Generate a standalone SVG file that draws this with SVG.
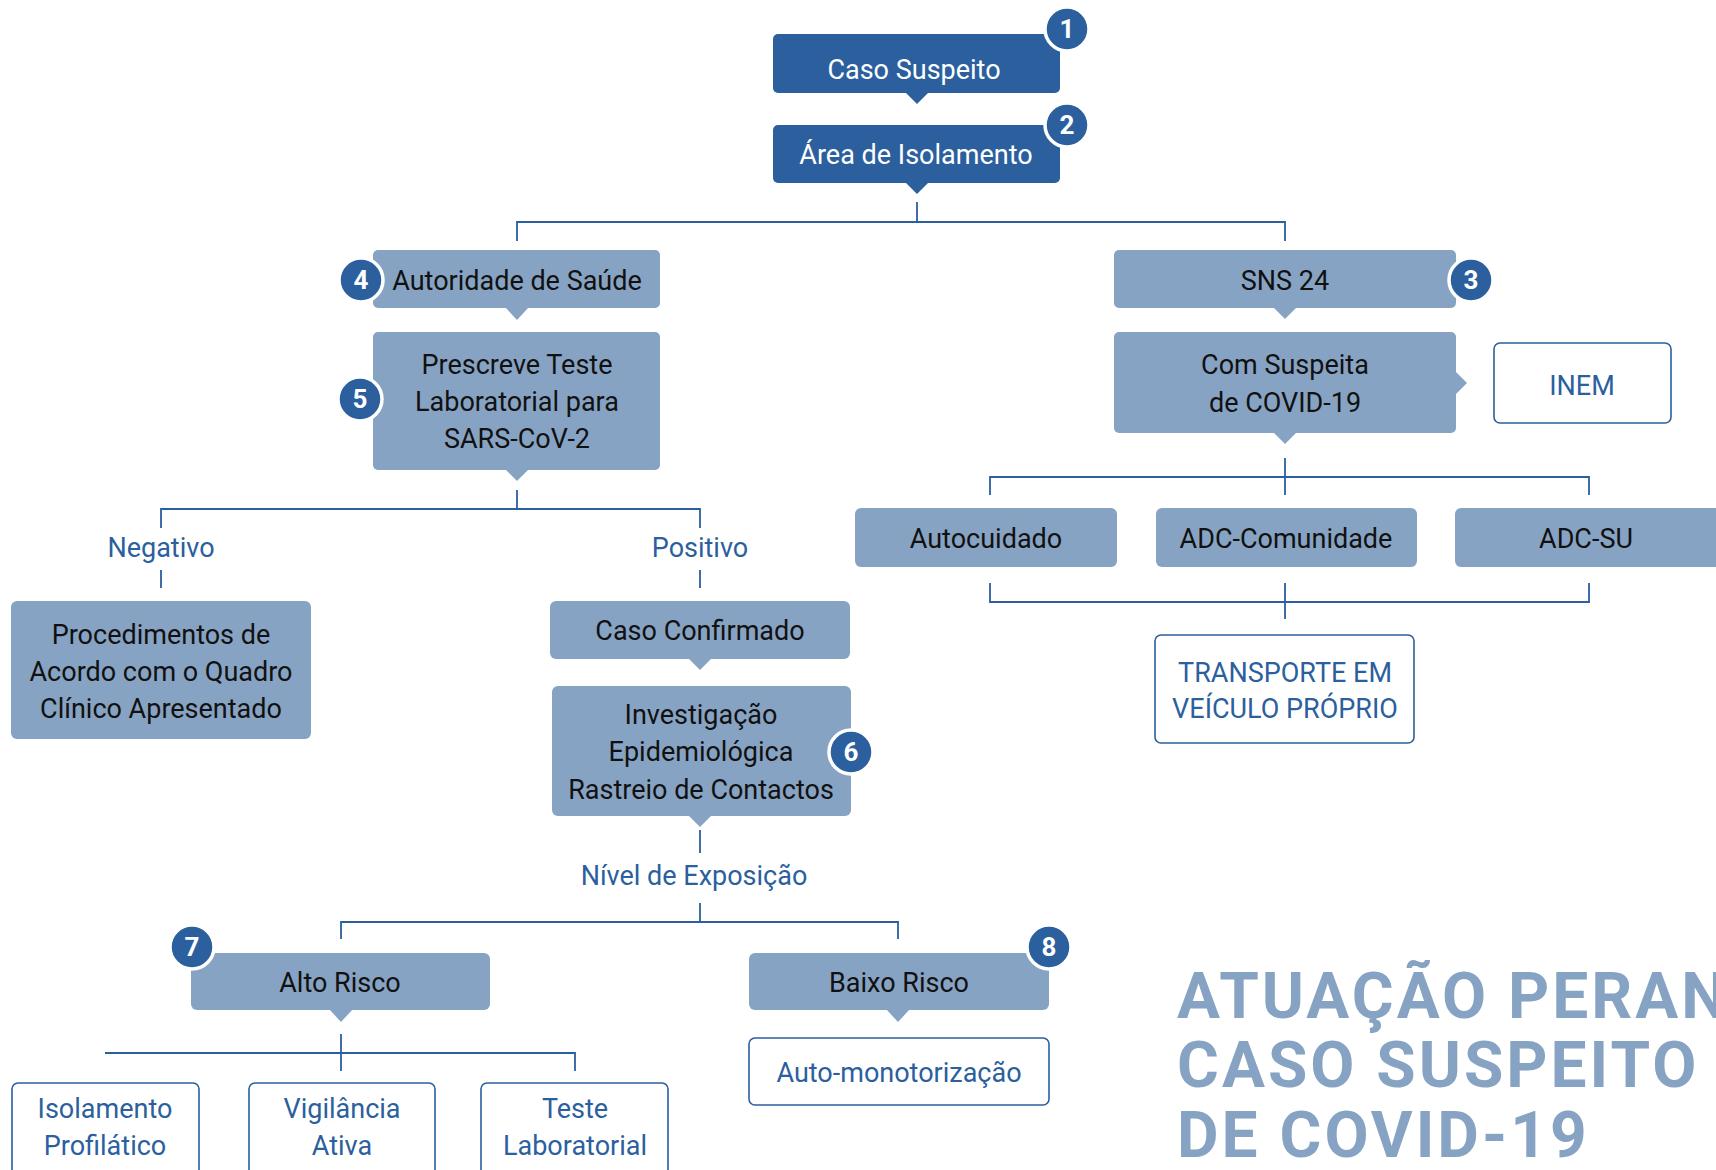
<svg xmlns="http://www.w3.org/2000/svg" width="1716" height="1170" viewBox="0 0 1716 1170">
<style>
.dark{fill:#2b5f9e}
.light{fill:#87a3c3}
.out{fill:#ffffff;stroke:#2b5f9e;stroke-width:1.6}
.t{font-family:Roboto,"Liberation Sans",sans-serif;font-size:27px;text-anchor:middle}
.tw{fill:#ffffff}
.tk{fill:#111111}
.tb{fill:#2b5f9e}
.badge circle{fill:#2b5f9e;stroke:#ffffff;stroke-width:3.5}
.badge text{font-family:Roboto,"Liberation Sans",sans-serif;font-size:26px;font-weight:700;fill:#ffffff;text-anchor:middle}
.conn{stroke:#2b5f9e;stroke-width:1.8;fill:none}
.title{font-family:Roboto,"Liberation Sans",sans-serif;font-size:64px;font-weight:700;fill:#87a3c3;letter-spacing:3px}
</style>
<g id="connectors" class="conn">
<path d="M917 202V222M517 241V222H1285V241"/>
<path d="M517 490V509M161 528V509H700V528M161 570V588M700 570V588"/>
<path d="M1285 458V495M990 495V477H1589V495"/>
<path d="M990 583V602H1589V583M1285 583V619"/>
<path d="M700 830V853M700 903V922M341 939V922H898V939"/>
<path d="M341 1034V1071M105 1053H575V1071"/>
</g>
<g id="n1">
<rect class="dark" x="773" y="34" width="287" height="59" rx="5"/>
<path class="dark" d="M905 92L917 104L929 92Z"/>
<text class="t tw" x="914" y="79">Caso Suspeito</text>
</g>
<g id="n2">
<rect class="dark" x="773" y="125" width="287" height="58" rx="5"/>
<path class="dark" d="M905 182L917 194L929 182Z"/>
<text class="t tw" x="916" y="164">Área de Isolamento</text>
</g>
<g id="n4">
<rect class="light" x="373" y="250" width="287" height="58" rx="5"/>
<path class="light" d="M505 307L517 320L529 307Z"/>
<text class="t tk" x="517" y="290">Autoridade de Saúde</text>
</g>
<g id="n5">
<rect class="light" x="373" y="332" width="287" height="138" rx="5"/>
<path class="light" d="M505 469L517 481L529 469Z"/>
<text class="t tk" x="517" y="374">Prescreve Teste</text>
<text class="t tk" x="517" y="411">Laboratorial para</text>
<text class="t tk" x="517" y="448">SARS-CoV-2</text>
</g>
<g id="n3">
<rect class="light" x="1114" y="250" width="342" height="58" rx="5"/>
<path class="light" d="M1273 307L1285 319L1297 307Z"/>
<text class="t tk" x="1285" y="290">SNS 24</text>
</g>
<g id="nSusp">
<rect class="light" x="1114" y="332" width="342" height="101" rx="5"/>
<path class="light" d="M1273 432L1285 444L1297 432Z"/>
<path class="light" d="M1455 371L1467 383L1455 395Z"/>
<text class="t tk" x="1285" y="374">Com Suspeita</text>
<text class="t tk" x="1285" y="412">de COVID-19</text>
</g>
<g id="nINEM">
<rect class="out" x="1494" y="343" width="177" height="80" rx="6"/>
<text class="t tb" x="1582" y="395">INEM</text>
</g>
<g id="nAuto">
<rect class="light" x="855" y="508" width="262" height="59" rx="6"/>
<text class="t tk" x="986" y="548">Autocuidado</text>
</g>
<g id="nADCC">
<rect class="light" x="1156" y="508" width="261" height="59" rx="6"/>
<text class="t tk" x="1286" y="548">ADC-Comunidade</text>
</g>
<g id="nADCSU">
<rect class="light" x="1455" y="508" width="275" height="59" rx="6"/>
<text class="t tk" x="1586" y="548">ADC-SU</text>
</g>
<g id="nTransp">
<rect class="out" x="1155" y="635" width="259" height="108" rx="6"/>
<text class="t tb" x="1285" y="682">TRANSPORTE EM</text>
<text class="t tb" x="1285" y="718">VEÍCULO PRÓPRIO</text>
</g>
<g id="lblNeg"><text class="t tb" x="161" y="557">Negativo</text></g>
<g id="lblPos"><text class="t tb" x="700" y="557">Positivo</text></g>
<g id="nProc">
<rect class="light" x="11" y="601" width="300" height="138" rx="6"/>
<text class="t tk" x="161" y="644">Procedimentos de</text>
<text class="t tk" x="161" y="681">Acordo com o Quadro</text>
<text class="t tk" x="161" y="718">Clínico Apresentado</text>
</g>
<g id="nConf">
<rect class="light" x="550" y="601" width="300" height="58" rx="6"/>
<path class="light" d="M688 658L700 670L712 658Z"/>
<text class="t tk" x="700" y="640">Caso Confirmado</text>
</g>
<g id="nInv">
<rect class="light" x="552" y="686" width="299" height="130" rx="6"/>
<path class="light" d="M688 815L700 827L712 815Z"/>
<text class="t tk" x="701" y="724">Investigação</text>
<text class="t tk" x="701" y="761">Epidemiológica</text>
<text class="t tk" x="701" y="799">Rastreio de Contactos</text>
</g>
<g id="lblNivel"><text class="t tb" x="694" y="885">Nível de Exposição</text></g>
<g id="nAlto">
<rect class="light" x="191" y="953" width="299" height="57" rx="6"/>
<path class="light" d="M329 1009L341 1022L353 1009Z"/>
<text class="t tk" x="340" y="992">Alto Risco</text>
</g>
<g id="nBaixo">
<rect class="light" x="749" y="953" width="300" height="57" rx="6"/>
<path class="light" d="M886 1009L898 1022L910 1009Z"/>
<text class="t tk" x="899" y="992">Baixo Risco</text>
</g>
<g id="nAutoMon">
<rect class="out" x="749" y="1038" width="300" height="67" rx="6"/>
<text class="t tb" x="899" y="1082">Auto-monotorização</text>
</g>
<g id="nIsol">
<rect class="out" x="12" y="1083" width="187" height="100" rx="6"/>
<text class="t tb" x="105" y="1118">Isolamento</text>
<text class="t tb" x="105" y="1155">Profilático</text>
</g>
<g id="nVig">
<rect class="out" x="249" y="1083" width="186" height="100" rx="6"/>
<text class="t tb" x="342" y="1118">Vigilância</text>
<text class="t tb" x="342" y="1155">Ativa</text>
</g>
<g id="nTeste">
<rect class="out" x="481" y="1083" width="187" height="100" rx="6"/>
<text class="t tb" x="575" y="1118">Teste</text>
<text class="t tb" x="575" y="1155">Laboratorial</text>
</g>
<g id="badges">
<g class="badge" id="b1"><circle cx="1067" cy="29" r="22"/><text x="1067" y="38">1</text></g>
<g class="badge" id="b2"><circle cx="1067" cy="125" r="22"/><text x="1067" y="134">2</text></g>
<g class="badge" id="b3"><circle cx="1471" cy="280" r="22"/><text x="1471" y="289">3</text></g>
<g class="badge" id="b4"><circle cx="361" cy="280" r="22"/><text x="361" y="289">4</text></g>
<g class="badge" id="b5"><circle cx="360" cy="399" r="22"/><text x="360" y="408">5</text></g>
<g class="badge" id="b6"><circle cx="851" cy="752" r="22"/><text x="851" y="761">6</text></g>
<g class="badge" id="b7"><circle cx="192" cy="947" r="22"/><text x="192" y="956">7</text></g>
<g class="badge" id="b8"><circle cx="1049" cy="947" r="22"/><text x="1049" y="956">8</text></g>
</g>
<g id="title">
<text class="title" x="1177" y="1018">ATUAÇÃO PERANTE</text>
<text class="title" x="1177" y="1087">CASO SUSPEITO</text>
<text class="title" x="1177" y="1157">DE COVID-19</text>
</g>
</svg>
